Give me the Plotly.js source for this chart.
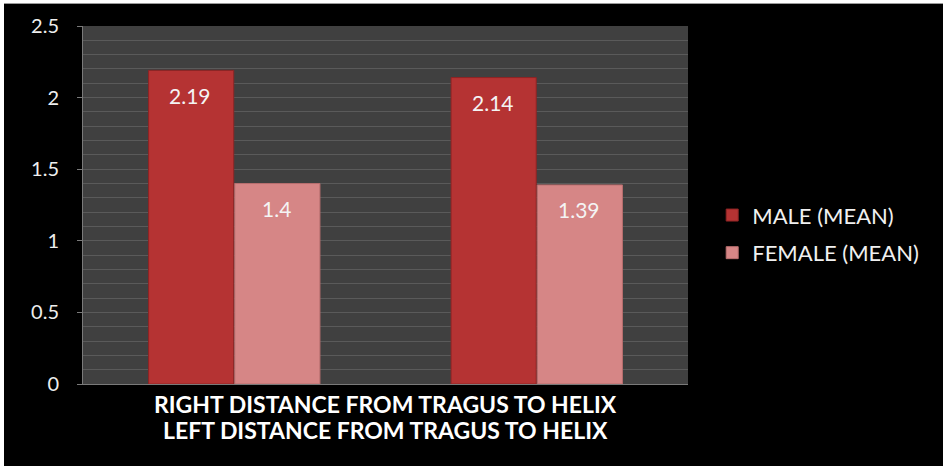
<!DOCTYPE html>
<html>
<head>
<meta charset="utf-8">
<script src="https://cdn.plot.ly/plotly-3.0.1.min.js"></script>
<style>
  html, body { margin: 0; padding: 0; background: #ffffff; width: 943px; height: 466px; overflow: hidden; }
  #chart { position: absolute; left: 4px; top: 3px; width: 939px; height: 463px; background: #000; border-top: 1px solid #9a9a9a; box-sizing: border-box; }
</style>
</head>
<body>
<div id="chart"></div>
<script>
// Measurements (cm) by ear side and sex
const categories = ["RIGHT DISTANCE FROM TRAGUS TO HELIX", "LEFT DISTANCE FROM TRAGUS TO HELIX"];
const seriesNames = ["MALE (MEAN)", "FEMALE (MEAN)"];
const maleMean = [2.19, 2.14];
const femaleMean = [1.4, 1.39];
const yTickVals = [0, 0.5, 1, 1.5, 2, 2.5];
const yTickText = ["0", "0.5", "1", "1.5", "2", "2.5"];

const FONT = "Lato, 'Open Sans', sans-serif";
const barColors = ["#b53333", "#d68686"];
const barLines = ["#8e2424", "#b86e6e"];
const labelXShift = [-44, 42];
const captionYShift = [-20, -46];

const xIdx = categories.map((_, i) => i);
const series = [maleMean, femaleMean];

const traces = series.map((vals, s) => ({
  type: "bar",
  name: seriesNames[s],
  x: xIdx,
  y: vals,
  legendgroup: "g" + s,
  marker: { color: barColors[s], line: { color: barLines[s], width: 1 } },
  hoverinfo: "none"
}));

const annotations = [];
// value labels just inside the top of each bar
series.forEach((vals, s) => {
  vals.forEach((v, i) => {
    annotations.push({
      x: xIdx[i], y: v, xref: "x", yref: "y",
      text: String(v), showarrow: false,
      xshift: labelXShift[s], yshift: -25,
      font: { family: FONT, size: 21, color: "#f4f4f4" }
    });
  });
});
// category captions stacked under the axis
categories.forEach((c, i) => {
  annotations.push({
    x: 0.5, y: 0, xref: "paper", yref: "paper",
    text: c, showarrow: false, yanchor: "middle",
    yshift: captionYShift[i],
    font: { family: FONT, size: 23, color: "#ffffff", weight: "bold" }
  });
});

const layout = {
  width: 939, height: 462,
  paper_bgcolor: "#000000",
  plot_bgcolor: "#404040",
  margin: { l: 79, r: 255, t: 22, b: 82 },
  barmode: "group",
  bargap: 0.43,
  bargroupgap: 0.012,
  showlegend: true,
  legend: {
    x: 1.04, xanchor: "left", y: 0.53, yanchor: "top",
    traceorder: "grouped", tracegroupgap: 6,
    font: { family: FONT, size: 22, color: "#f0f0f0" },
    bgcolor: "rgba(0,0,0,0)"
  },
  xaxis: {
    type: "linear",
    range: [-0.5, 1.5],
    showticklabels: false,
    ticks: "",
    showgrid: false,
    zeroline: false,
    showline: true, linecolor: "#7a7a7a", linewidth: 1,
    fixedrange: true
  },
  yaxis: {
    range: [0, 2.5],
    tickvals: yTickVals,
    ticktext: yTickText,
    ticks: "outside", ticklen: 5, tickcolor: "#7a7a7a",
    ticklabelstandoff: 14,
    tickfont: { family: FONT, size: 20, color: "#eeeeee" },
    showgrid: true, gridcolor: "#5a5a5a", gridwidth: 1,
    minor: { dtick: 0.1, showgrid: true, gridcolor: "#5a5a5a", gridwidth: 1, ticks: "" },
    zeroline: false,
    showline: true, linecolor: "#7a7a7a", linewidth: 1,
    fixedrange: true
  },
  annotations: annotations
};

Plotly.newPlot("chart", traces, layout, { staticPlot: true, displayModeBar: false });
</script>
</body>
</html>
